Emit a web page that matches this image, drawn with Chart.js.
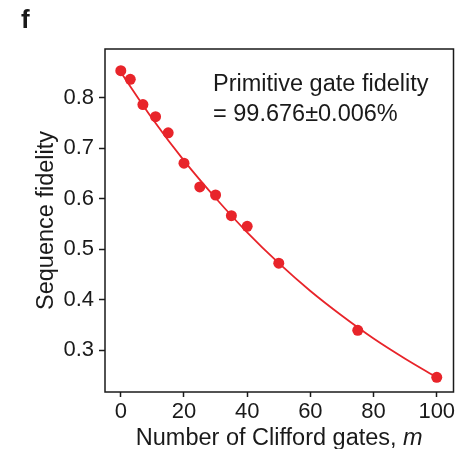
<!DOCTYPE html>
<html>
<head>
<meta charset="utf-8">
<script src="https://cdn.jsdelivr.net/npm/chart.js@4"></script>
<style>
  html, body { margin: 0; padding: 0; background: #fff; }
</style>
</head>
<body>
<canvas id="rbChart" width="459" height="449"></canvas>
<script>
// measured points (Clifford sequence length vs. sequence fidelity)
const gates = [0, 3, 7, 11, 15, 20, 25, 30, 35, 40, 50, 75, 100];
const fidelity = [0.853, 0.836, 0.786, 0.762, 0.730, 0.670, 0.623, 0.607, 0.566, 0.545, 0.472, 0.339, 0.246];

// fit curve
const fitGates = [0, 10, 20, 30, 40, 50, 60, 70, 80, 90, 100];
const fitFidelity = [0.850, 0.758, 0.675, 0.601, 0.533, 0.472, 0.417, 0.368, 0.323, 0.283, 0.246];

const xTicks = [0, 20, 40, 60, 80, 100];
const yTicks = [0.3, 0.4, 0.5, 0.6, 0.7, 0.8];

const RED = '#e8242a';
const INK = '#1a1a1a';
const FONT = 'Arial, "Liberation Sans", sans-serif';

function toXY(xs, ys) {
  return xs.map((x, i) => ({ x: x, y: ys[i] }));
}

// frame, panel letter, axis titles and the fidelity note
const extras = {
  id: 'extras',
  afterDraw(chart) {
    const ctx = chart.ctx;
    const a = chart.chartArea;
    ctx.save();
    ctx.strokeStyle = INK;
    ctx.lineWidth = 1.5;
    ctx.strokeRect(a.left, a.top, a.right - a.left, a.bottom - a.top);

    ctx.fillStyle = INK;
    ctx.textBaseline = 'alphabetic';
    ctx.textAlign = 'left';
    ctx.font = 'bold 26px ' + FONT;
    ctx.fillText('f', 21, 28);

    ctx.font = '23.5px ' + FONT;
    ctx.fillText('Primitive gate fidelity', 213, 91);
    ctx.fillText('= 99.676\u00b10.006%', 213, 121);

    // x title with italic m
    const part1 = 'Number of Clifford gates, ';
    ctx.font = '23.5px ' + FONT;
    const w1 = ctx.measureText(part1).width;
    ctx.font = 'italic 23.5px ' + FONT;
    const w2 = ctx.measureText('m').width;
    const cx = (a.left + a.right) / 2;
    let x0 = cx - (w1 + w2) / 2;
    ctx.font = '23.5px ' + FONT;
    ctx.fillText(part1, x0, 445);
    ctx.font = 'italic 23.5px ' + FONT;
    ctx.fillText('m', x0 + w1, 445);

    // y title
    ctx.translate(47, (a.top + a.bottom) / 2);
    ctx.rotate(-Math.PI / 2);
    ctx.textAlign = 'center';
    ctx.textBaseline = 'middle';
    ctx.font = '23.5px ' + FONT;
    ctx.fillText('Sequence fidelity', 0, 0);
    ctx.restore();
  }
};

new Chart(document.getElementById('rbChart'), {
  type: 'scatter',
  data: {
    datasets: [
      {
        label: 'fit',
        data: toXY(fitGates, fitFidelity),
        showLine: true,
        borderColor: RED,
        borderWidth: 1.8,
        pointRadius: 0,
        cubicInterpolationMode: 'monotone',
        order: 2
      },
      {
        label: 'data',
        data: toXY(gates, fidelity),
        backgroundColor: RED,
        borderColor: RED,
        pointRadius: 5.5,
        borderWidth: 0,
        order: 1
      }
    ]
  },
  options: {
    responsive: false,
    animation: false,
    devicePixelRatio: 1,
    layout: { padding: { left: 0, top: 49, right: 3, bottom: 0 } },
    plugins: {
      legend: { display: false },
      tooltip: { enabled: false }
    },
    scales: {
      x: {
        type: 'linear',
        min: -5,
        max: 105.3,
        afterFit: s => { s.height = 57; },
        afterBuildTicks: s => { s.ticks = xTicks.map(v => ({ value: v })); },
        grid: { drawOnChartArea: false, drawTicks: true, tickLength: 5, tickWidth: 1.5, tickColor: INK },
        border: { display: false },
        ticks: { color: INK, font: { family: FONT, size: 22 }, padding: 2, maxRotation: 0 }
      },
      y: {
        type: 'linear',
        min: 0.217,
        max: 0.896,
        afterFit: s => { s.width = 105; },
        afterBuildTicks: s => { s.ticks = yTicks.map(v => ({ value: v })); },
        grid: { drawOnChartArea: false, drawTicks: true, tickLength: 6, tickWidth: 1.5, tickColor: INK },
        border: { display: false },
        ticks: { color: INK, font: { family: FONT, size: 22 }, padding: 5, callback: v => v.toFixed(1) }
      }
    }
  },
  plugins: [extras]
});
</script>
</body>
</html>
